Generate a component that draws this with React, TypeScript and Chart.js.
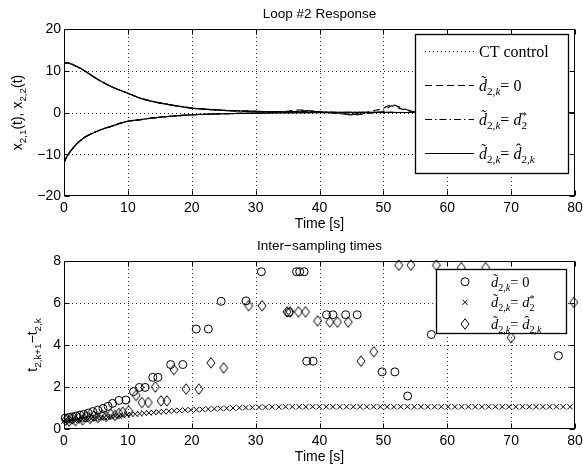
import React, { useEffect, useRef } from "react";
import { Chart, registerables } from "chart.js";
Chart.register(...registerables);

// ---------- tick labels ----------
const xTicks = [0, 10, 20, 30, 40, 50, 60, 70, 80];
const yTicksTop = [-20, -10, 0, 10, 20];
const yTicksBottom = [0, 2, 4, 6, 8];

// ---------- top plot: state trajectories ----------
const tSmooth = [0, 0.5, 1, 2, 3, 4, 5, 6, 7, 8, 9, 10, 12, 14, 16, 18, 20, 22, 25, 28, 30, 35, 40, 45, 50, 55, 60, 70, 80];
const x21Smooth = [11.9, 11.85, 11.7, 11.0, 10.2, 9.2, 8.2, 7.3, 6.5, 5.8, 5.2, 4.6, 3.4, 2.6, 2.0, 1.5, 1.05, 0.8, 0.5, 0.35, 0.25, 0.12, 0.06, 0.03, 0.01, 0, 0, 0, 0];
const x22Smooth = [-12, -10.4, -9.3, -7.5, -6.2, -5.3, -4.6, -4.0, -3.5, -3.0, -2.5, -2.1, -1.7, -1.3, -1.0, -0.75, -0.55, -0.42, -0.3, -0.2, -0.15, -0.08, -0.04, -0.02, 0, 0, 0, 0, 0];

const tD0 = [0, 0.5, 1, 2, 3, 4, 5, 6, 7, 8, 9, 10, 12, 14, 16, 18, 20, 22, 25, 28, 30, 33, 35, 37, 38, 40, 42, 44, 45, 46, 47, 48, 50, 51.3, 52.5, 54, 55, 57, 60, 70, 80];
const x21D0 = [11.9, 11.85, 11.7, 11.0, 10.2, 9.2, 8.2, 7.3, 6.5, 5.8, 5.2, 4.6, 3.4, 2.6, 2.0, 1.5, 1.05, 0.8, 0.5, 0.35, 0.25, 0.2, 0.3, 0.6, 0.5, 0.15, -0.1, -0.4, -0.5, -0.35, -0.1, 0.3, 1.0, 1.9, 1.3, 0.5, 0.2, 0, 0, 0, 0];
const x22D0 = [-12, -10.4, -9.3, -7.5, -6.2, -5.3, -4.6, -4.0, -3.5, -3.0, -2.5, -2.1, -1.7, -1.3, -1.0, -0.75, -0.55, -0.42, -0.3, -0.2, -0.15, 0.0, 0.1, 0.3, 0.4, 0.1, 0.0, -0.3, -0.6, -0.5, -0.3, -0.1, 0.3, 1.6, 1.0, 0.4, 0.15, 0, 0, 0, 0];

const tDstar = [0, 0.5, 1, 2, 3, 4, 5, 6, 7, 8, 9, 10, 12, 14, 16, 18, 20, 22, 25, 28, 30, 35, 38, 40, 45, 50, 55, 60, 70, 80];
const x21Dstar = [11.9, 11.85, 11.7, 11.0, 10.2, 9.2, 8.2, 7.3, 6.5, 5.8, 5.2, 4.6, 3.4, 2.6, 2.0, 1.5, 1.05, 0.8, 0.5, 0.35, 0.25, 0.2, 0.35, 0.15, 0.03, 0.01, 0, 0, 0, 0];
const x22Dstar = [-12, -10.4, -9.3, -7.5, -6.2, -5.3, -4.6, -4.0, -3.5, -3.0, -2.5, -2.1, -1.7, -1.3, -1.0, -0.75, -0.55, -0.42, -0.3, -0.2, -0.15, 0.05, 0.2, 0.05, -0.02, 0, 0, 0, 0, 0];

// ---------- bottom plot: inter-sampling times ----------
const circleT = [0.2, 0.75, 1.3, 1.9, 2.5, 3.1, 3.8, 4.5, 5.3, 6.1, 6.9, 7.6, 8.6, 9.7, 10.9, 11.8, 12.7, 13.9, 14.7, 16.7, 18.6, 20.7, 22.6, 24.6, 28.5, 30.9, 35.2, 36.4, 36.9, 37.6, 38.0, 39.0, 41.1, 42.1, 44.1, 45.9, 49.8, 51.8, 53.8, 57.5, 77.4];
const circleY = [0.52, 0.55, 0.58, 0.62, 0.66, 0.7, 0.76, 0.83, 0.9, 0.98, 1.08, 1.22, 1.36, 1.38, 1.78, 1.98, 1.98, 2.46, 2.46, 3.07, 3.07, 4.76, 4.76, 6.08, 6.1, 7.49, 5.55, 7.49, 7.49, 7.49, 3.23, 3.23, 5.44, 5.44, 5.44, 5.44, 2.72, 2.72, 1.57, 4.5, 3.49];

const crossT = [0.0, 0.38, 0.77, 1.17, 1.58, 2.0, 2.43, 2.87, 3.32, 3.78, 4.26, 4.75, 5.25, 5.77, 6.3, 6.85, 7.41, 7.99, 8.59, 9.21, 9.84, 10.49, 11.16, 11.85, 12.56, 13.29, 14.04, 14.81, 15.6, 16.41, 17.24, 18.09, 18.96, 19.84, 20.74, 21.66, 22.59, 23.54, 24.5, 25.47, 26.46, 27.46, 28.47, 29.49, 30.52, 31.55, 32.59, 33.64, 34.69, 35.75, 36.81, 37.87, 38.93, 39.99, 41.05, 42.11, 43.17, 44.23, 45.29, 46.35, 47.41, 48.47, 49.53, 50.59, 51.65, 52.71, 53.77, 54.83, 55.89, 56.95, 58.01, 59.07, 60.13, 61.19, 62.25, 63.31, 64.37, 65.43, 66.49, 67.55, 68.61, 69.67, 70.73, 71.79, 72.85, 73.91, 74.97, 76.03, 77.09, 78.15, 79.21];
const crossY = [0.38, 0.39, 0.4, 0.41, 0.42, 0.43, 0.44, 0.45, 0.46, 0.48, 0.49, 0.5, 0.52, 0.53, 0.55, 0.56, 0.58, 0.6, 0.62, 0.64, 0.67, 0.69, 0.71, 0.73, 0.75, 0.77, 0.79, 0.81, 0.83, 0.85, 0.87, 0.88, 0.9, 0.91, 0.92, 0.93, 0.95, 0.96, 0.97, 0.99, 1.0, 1.01, 1.02, 1.03, 1.03, 1.04, 1.05, 1.05, 1.06, 1.06, 1.06, 1.06, 1.06, 1.06, 1.06, 1.06, 1.06, 1.06, 1.06, 1.06, 1.06, 1.06, 1.06, 1.06, 1.06, 1.06, 1.06, 1.06, 1.06, 1.06, 1.06, 1.06, 1.06, 1.06, 1.06, 1.06, 1.06, 1.06, 1.06, 1.06, 1.06, 1.06, 1.06, 1.06, 1.06, 1.06, 1.06, 1.06, 1.06, 1.06, 1.06];

const diamondT = [0.3, 0.8, 1.3, 1.8, 2.3, 2.9, 3.5, 4.1, 4.7, 5.3, 6.0, 6.6, 7.3, 8.0, 8.6, 9.2, 10.1, 11.3, 12.2, 13.2, 14.3, 15.2, 16.1, 17.2, 19.1, 21.1, 23.0, 25.0, 28.9, 31.0, 34.9, 35.4, 36.7, 37.8, 39.7, 41.6, 42.8, 44.5, 46.5, 48.5, 52.4, 54.3, 58.3, 62.2, 66.0, 70.0, 79.8];
const diamondY = [0.42, 0.38, 0.48, 0.4, 0.52, 0.44, 0.58, 0.5, 0.62, 0.55, 0.66, 0.6, 0.7, 0.64, 0.74, 0.8, 0.86, 1.6, 1.26, 1.26, 2.0, 1.34, 1.34, 2.83, 1.9, 1.9, 3.15, 2.91, 5.87, 5.87, 5.58, 5.58, 5.58, 5.58, 5.15, 5.09, 5.09, 5.09, 3.23, 3.68, 7.8, 7.8, 7.8, 7.68, 7.68, 4.35, 6.03];

// ---------- text helpers ----------
type Seg = { t: string; it?: boolean; sub?: boolean; sup?: boolean; acc?: "tilde" | "hat"; noAdv?: boolean };
const SANS = '"Liberation Sans", Arial, sans-serif';
const SERIF = '"Liberation Serif", "Times New Roman", serif';

function segFont(s: Seg, size: number, fam: string) {
  const sz = s.sub || s.sup ? size * 0.7 : size;
  return `${s.it ? "italic " : ""}${sz}px ${fam}`;
}
function drawRich(ctx: CanvasRenderingContext2D, x0: number, y: number, segs: Seg[], size: number, fam: string, align: "left" | "center" = "left") {
  let x = 0;
  const items: { s: Seg; x: number; w: number }[] = [];
  for (const s of segs) {
    ctx.font = segFont(s, size, fam);
    const w = ctx.measureText(s.t).width;
    items.push({ s, x, w });
    if (!s.noAdv) x += w;
  }
  const start = align === "center" ? x0 - x / 2 : x0;
  ctx.textAlign = "left";
  ctx.textBaseline = "alphabetic";
  for (const it of items) {
    ctx.font = segFont(it.s, size, fam);
    const dy = it.s.sub ? size * 0.27 : it.s.sup ? -size * 0.4 : 0;
    ctx.fillText(it.s.t, start + it.x, y + dy);
    if (it.s.acc) {
      ctx.font = `${size}px ${fam}`;
      ctx.textAlign = "center";
      ctx.fillText(it.s.acc === "tilde" ? "\u02DC" : "\u02C6", start + it.x + it.w * 0.62, y - size * 0.22);
      ctx.textAlign = "left";
    }
  }
}

const dTilde = (): Seg[] => [{ t: "d", it: true, acc: "tilde" }, { t: "2,", sub: true }, { t: "k", sub: true, it: true }];
const legD0: Seg[] = [...dTilde(), { t: "= 0" }];
const legDstar: Seg[] = [...dTilde(), { t: "= " }, { t: "d", it: true }, { t: "2", sub: true, noAdv: true }, { t: "*", sup: true }];
const legDhat: Seg[] = [...dTilde(), { t: "= " }, { t: "d", it: true, acc: "hat" }, { t: "2,", sub: true }, { t: "k", sub: true, it: true }];

// ---------- decoration plugin ----------
function decorPlugin(cfg: {
  yTicks: number[];
  yFmt: (v: number) => string;
  title: string;
  titleY: number;
  ylabel: Seg[];
  ylabelX: number;
  xlabelY: number;
  legend: (ctx: CanvasRenderingContext2D) => void;
}) {
  return {
    id: "decor",
    beforeDatasetsDraw(chart: any) {
      const { ctx, chartArea: a, scales } = chart;
      const sx = scales.x, sy = scales.y;
      ctx.save();
      ctx.strokeStyle = "rgba(0,0,0,0.8)";
      ctx.lineWidth = 1;
      ctx.setLineDash([1, 3]);
      for (const v of xTicks.slice(1, -1)) {
        const px = Math.round(sx.getPixelForValue(v)) + 0.5;
        ctx.beginPath(); ctx.moveTo(px, a.top); ctx.lineTo(px, a.bottom); ctx.stroke();
      }
      for (const v of cfg.yTicks.slice(1, -1)) {
        const py = Math.round(sy.getPixelForValue(v)) + 0.5;
        ctx.beginPath(); ctx.moveTo(a.left, py); ctx.lineTo(a.right, py); ctx.stroke();
      }
      ctx.restore();
    },
    afterDatasetsDraw(chart: any) {
      const { ctx, chartArea: a, scales } = chart;
      const sx = scales.x, sy = scales.y;
      const L = Math.round(a.left) + 0.5, R = Math.round(a.right) - 0.5;
      const T = Math.round(a.top) + 0.5, B = Math.round(a.bottom) - 0.5;
      ctx.save();
      ctx.setLineDash([]);
      ctx.strokeStyle = "#000";
      ctx.lineWidth = 1;
      ctx.beginPath();
      for (const v of xTicks) {
        const px = Math.round(sx.getPixelForValue(v)) + 0.5;
        ctx.moveTo(px, B); ctx.lineTo(px, B - 5);
        ctx.moveTo(px, T); ctx.lineTo(px, T + 5);
      }
      for (const v of cfg.yTicks) {
        const py = Math.round(sy.getPixelForValue(v)) + 0.5;
        ctx.moveTo(L, py); ctx.lineTo(L + 5, py);
        ctx.moveTo(R, py); ctx.lineTo(R - 5, py);
      }
      ctx.stroke();
      ctx.strokeRect(L, T, R - L, B - T);
      ctx.fillStyle = "#000";
      ctx.font = `14px ${SANS}`;
      ctx.textAlign = "center";
      ctx.textBaseline = "middle";
      for (const v of xTicks) ctx.fillText(String(v), sx.getPixelForValue(v), B + 13);
      ctx.textAlign = "right";
      for (const v of cfg.yTicks) ctx.fillText(cfg.yFmt(v), L - 3.5, sy.getPixelForValue(v) + 0.5);
      const cx = (L + R) / 2;
      ctx.textAlign = "center";
      ctx.font = `13.5px ${SANS}`;
      ctx.fillText(cfg.title, cx, cfg.titleY);
      ctx.font = `14px ${SANS}`;
      ctx.fillText("Time [s]", cx, cfg.xlabelY);
      ctx.save();
      ctx.translate(cfg.ylabelX, (T + B) / 2);
      ctx.rotate(-Math.PI / 2);
      drawRich(ctx, 0, 0, cfg.ylabel, 14, SANS, "center");
      ctx.restore();
      cfg.legend(ctx);
      ctx.restore();
    },
  };
}

function pts(t: number[], y: number[]) {
  return t.map((v, i) => ({ x: v, y: y[i] }));
}

function lineDs(t: number[], y: number[], dash: number[]) {
  return {
    data: pts(t, y),
    showLine: true,
    borderColor: "#000",
    borderWidth: 1.2,
    borderDash: dash,
    pointRadius: 0,
    cubicInterpolationMode: "monotone" as const,
    fill: false,
  };
}

const DOT = [1, 3];
const DASH = [7, 4];
const DASHDOT = [7, 3, 1.5, 3];

const DW = 8, DH = 10.5;
function diamondPath(ctx: CanvasRenderingContext2D, x: number, y: number) {
  ctx.beginPath();
  ctx.moveTo(x, y - DH / 2);
  ctx.lineTo(x + DW / 2, y);
  ctx.lineTo(x, y + DH / 2);
  ctx.lineTo(x - DW / 2, y);
  ctx.closePath();
  ctx.stroke();
}
function makeDiamond() {
  const c = document.createElement("canvas");
  c.width = 12; c.height = 14;
  const g = c.getContext("2d") as CanvasRenderingContext2D;
  g.strokeStyle = "#000";
  g.lineWidth = 1;
  diamondPath(g, 6, 7);
  return c;
}

function topLegend(ctx: CanvasRenderingContext2D) {
  const x = 415.5, y = 34.5, w = 153, h = 139;
  ctx.fillStyle = "#fff";
  ctx.fillRect(x, y, w, h);
  ctx.strokeStyle = "#000";
  ctx.lineWidth = 1.3;
  ctx.setLineDash([]);
  ctx.strokeRect(x, y, w, h);
  const rows: { ly: number; dash: number[]; segs: Seg[] }[] = [
    { ly: 51, dash: DOT, segs: [{ t: "CT control" }] },
    { ly: 85, dash: DASH, segs: legD0 },
    { ly: 119, dash: DASHDOT, segs: legDstar },
    { ly: 153, dash: [], segs: legDhat },
  ];
  ctx.fillStyle = "#000";
  for (const r of rows) {
    ctx.lineWidth = 1.2;
    ctx.setLineDash(r.dash);
    ctx.beginPath();
    ctx.moveTo(425, r.ly + 0.5);
    ctx.lineTo(474, r.ly + 0.5);
    ctx.stroke();
    ctx.setLineDash([]);
    drawRich(ctx, 479, r.ly + 6, r.segs, 16, SERIF);
  }
}

function marker(ctx: CanvasRenderingContext2D, kind: string, x: number, y: number) {
  if (kind === "diamond") { diamondPath(ctx, x, y); return; }
  ctx.beginPath();
  if (kind === "circle") ctx.arc(x, y, 4, 0, Math.PI * 2);
  else {
    const r = 2.6;
    ctx.moveTo(x - r, y - r); ctx.lineTo(x + r, y + r);
    ctx.moveTo(x - r, y + r); ctx.lineTo(x + r, y - r);
  }
  ctx.stroke();
}

function bottomLegend(ctx: CanvasRenderingContext2D) {
  const x = 436.5, y = 33.5, w = 130, h = 64;
  ctx.fillStyle = "#fff";
  ctx.fillRect(x, y, w, h);
  ctx.strokeStyle = "#000";
  ctx.lineWidth = 1.3;
  ctx.setLineDash([]);
  ctx.strokeRect(x, y, w, h);
  const rows = [
    { ly: 45.7, kind: "circle", segs: legD0 },
    { ly: 66.3, kind: "cross", segs: legDstar },
    { ly: 88, kind: "diamond", segs: legDhat },
  ];
  ctx.fillStyle = "#000";
  ctx.lineWidth = 1;
  for (const r of rows) {
    marker(ctx, r.kind, 465, r.ly);
    drawRich(ctx, 491, r.ly + 5, r.segs, 14.5, SERIF);
  }
}

const minus = (v: number) => (v < 0 ? "\u2212" + Math.abs(v) : String(v));

export default function App() {
  const topRef = useRef<HTMLCanvasElement>(null);
  const botRef = useRef<HTMLCanvasElement>(null);

  useEffect(() => {
    const common = {
      responsive: false,
      animation: false as const,
      devicePixelRatio: 1,
      events: [] as any[],
      plugins: { legend: { display: false }, tooltip: { enabled: false }, title: { display: false } },
    };
    const c1 = new Chart(topRef.current as HTMLCanvasElement, {
      type: "scatter",
      data: {
        datasets: [
          lineDs(tSmooth, x21Smooth, DOT),
          lineDs(tSmooth, x22Smooth, DOT),
          lineDs(tD0, x21D0, DASH),
          lineDs(tD0, x22D0, DASH),
          lineDs(tDstar, x21Dstar, DASHDOT),
          lineDs(tDstar, x22Dstar, DASHDOT),
          lineDs(tSmooth, x21Smooth, []),
          lineDs(tSmooth, x22Smooth, []),
        ] as any,
      },
      options: {
        ...common,
        layout: { padding: { left: 64, right: 8, top: 29, bottom: 40 } },
        scales: {
          x: { type: "linear", min: 0, max: 80, display: false },
          y: { type: "linear", min: -20, max: 20, display: false },
        },
      } as any,
      plugins: [
        decorPlugin({
          yTicks: yTicksTop,
          yFmt: minus,
          title: "Loop #2 Response",
          titleY: 14,
          ylabel: [{ t: "x" }, { t: "2,1", sub: true }, { t: "(t), x" }, { t: "2,2", sub: true }, { t: "(t)" }],
          ylabelX: 22,
          xlabelY: 224,
          legend: topLegend,
        }),
      ],
    });

    const scatterDs = (t: number[], y: number[], style: any, r: number) => ({
      data: pts(t, y),
      showLine: false,
      pointStyle: style,
      pointRadius: r,
      pointBorderWidth: 1,
      pointBorderColor: "#000",
      pointBackgroundColor: "rgba(0,0,0,0)",
      clip: 12,
    });

    const c2 = new Chart(botRef.current as HTMLCanvasElement, {
      type: "scatter",
      data: {
        datasets: [
          scatterDs(circleT, circleY, "circle", 4),
          scatterDs(crossT, crossY, "crossRot", 3.8),
          scatterDs(diamondT, diamondY, makeDiamond(), 5),
        ] as any,
      },
      options: {
        ...common,
        layout: { padding: { left: 64, right: 8, top: 25, bottom: 43 } },
        scales: {
          x: { type: "linear", min: 0, max: 80, display: false },
          y: { type: "linear", min: 0, max: 8, display: false },
        },
      } as any,
      plugins: [
        decorPlugin({
          yTicks: yTicksBottom,
          yFmt: (v) => String(v),
          title: "Inter\u2212sampling times",
          titleY: 10,
          ylabel: [{ t: "t" }, { t: "2,k+1", sub: true }, { t: "\u2212t" }, { t: "2,k", sub: true }],
          ylabelX: 37,
          xlabelY: 221,
          legend: bottomLegend,
        }),
      ],
    });

    return () => {
      c1.destroy();
      c2.destroy();
    };
  }, []);

  return (
    <div style={{ position: "absolute", left: 0, top: 0, width: 583, height: 472, background: "#fff" }}>
      <canvas ref={topRef} width={583} height={236} style={{ position: "absolute", left: 0, top: 0, display: "block" }} />
      <canvas ref={botRef} width={583} height={236} style={{ position: "absolute", left: 0, top: 236, display: "block" }} />
    </div>
  );
}
